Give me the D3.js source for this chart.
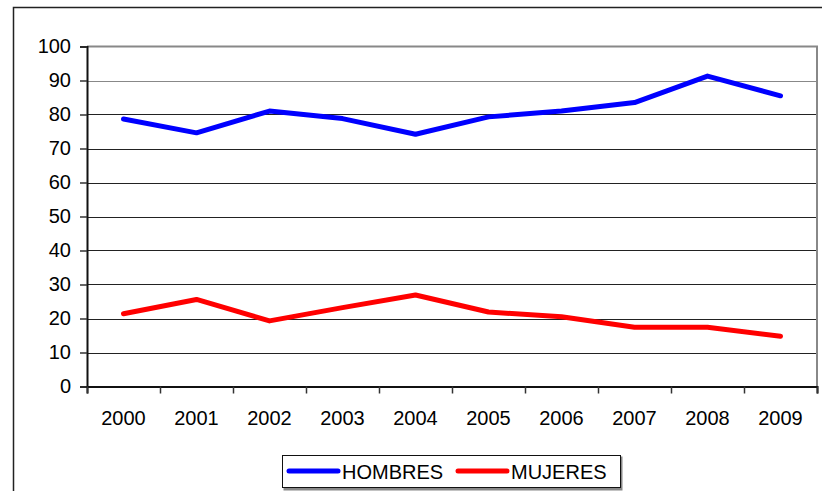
<!DOCTYPE html>
<html>
<head>
<meta charset="utf-8">
<script src="https://cdn.jsdelivr.net/npm/d3@7"></script>
<style>
  body { margin: 0; background: #fff; }
  svg { display: block; }
</style>
</head>
<body>
<div id="chart"></div>
<script>
// years on the x axis
var years = ["2000", "2001", "2002", "2003", "2004", "2005", "2006", "2007", "2008", "2009"];
// values
var hombres = [78.7, 74.6, 81.0, 78.8, 74.2, 79.3, 81.0, 83.5, 91.3, 85.5];
var mujeres = [21.4, 25.6, 19.3, 23.2, 26.9, 21.9, 20.5, 17.4, 17.4, 14.8];
var yTicks = [0, 10, 20, 30, 40, 50, 60, 70, 80, 90, 100];
var seriesNames = ["HOMBRES", "MUJERES"];

var fontFamily = "'Liberation Sans', Arial, Helvetica, sans-serif";
var colors = ["#0000FF", "#FF0000"];

const width = 822;
const height = 491;

var svg = d3.select("#chart")
  .append("svg")
  .attr("width", width)
  .attr("height", height)
  .style("font-family", fontFamily);

// outer chart frame (cut off at right and bottom)
svg.append("rect")
  .attr("x", 13.5).attr("y", 7.5)
  .attr("width", 840).attr("height", 500)
  .attr("fill", "#fff")
  .attr("stroke", "#222")
  .attr("stroke-width", 1.5);

//plot area
var plotLeft = 87, plotRight = 817, plotTop = 46.5, plotBottom = 386.5;

var x = d3.scaleBand()
  .domain(years)
  .range([plotLeft, plotRight]);

var xEdges = d3.scaleLinear()
  .domain([0, years.length])
  .range([plotLeft, plotRight]);

var y = d3.scaleLinear()
  .domain([0, 100])
  .range([plotBottom, plotTop]);

// gridlines
svg.append("g")
  .selectAll("line")
  .data(yTicks.filter(function(d){ return d > 0 && d < 100; }))
  .enter().append("line")
  .attr("x1", plotLeft).attr("x2", plotRight)
  .attr("y1", function(d){ return Math.round(y(d)) + 0.5; })
  .attr("y2", function(d){ return Math.round(y(d)) + 0.5; })
  .attr("stroke", function(d){ return d >= 90 ? "#888" : "#222"; })
  .attr("stroke-width", 1.2);

// top and right border of plot area
svg.append("path")
  .attr("d", "M" + plotLeft + "," + plotTop + "H" + plotRight + "V" + plotBottom)
  .attr("fill", "none")
  .attr("stroke", "#888")
  .attr("stroke-width", 2);

// y axis
var yAxis = svg.append("g")
  .attr("transform", "translate(" + plotLeft + ",0)")
  .call(d3.axisLeft(y).tickValues(yTicks).tickSize(7).tickPadding(9));
yAxis.select(".domain").attr("stroke", "#111").attr("stroke-width", 2);
yAxis.selectAll(".tick line").attr("stroke", "#333").attr("stroke-width", 1.5);
yAxis.selectAll("text")
  .attr("font-size", 20)
  .attr("font-family", fontFamily)
  .attr("fill", "#000");

// x axis tick marks between categories
var xTickAxis = svg.append("g")
  .attr("transform", "translate(0," + plotBottom + ")")
  .call(d3.axisBottom(xEdges).tickValues(d3.range(years.length + 1)).tickSize(7).tickFormat(""));
xTickAxis.select(".domain").attr("stroke", "#111").attr("stroke-width", 2);
xTickAxis.selectAll(".tick line").attr("stroke", "#333").attr("stroke-width", 1.5);

// x axis labels
var xAxis = svg.append("g")
  .attr("transform", "translate(0," + plotBottom + ")")
  .call(d3.axisBottom(x).tickSize(0));
xAxis.select(".domain").remove();
xAxis.selectAll("text")
  .attr("y", 38)
  .attr("dy", 0)
  .attr("font-size", 20)
  .attr("font-family", fontFamily)
  .attr("fill", "#000");

// lines
var line = d3.line()
  .x(function(d, i){ return x(years[i]) + x.bandwidth() / 2; })
  .y(function(d){ return y(d); });

[hombres, mujeres].forEach(function(s, i){
  svg.append("path")
    .datum(s)
    .attr("d", line)
    .attr("fill", "none")
    .attr("stroke", colors[i])
    .attr("stroke-width", 5)
    .attr("stroke-linecap", "round")
    .attr("stroke-linejoin", "round");
});

// legend
var legend = svg.append("g");
legend.append("rect")
  .attr("x", 283.5).attr("y", 456.5)
  .attr("width", 339).attr("height", 34)
  .attr("fill", "#888");
legend.append("rect")
  .attr("x", 282.5).attr("y", 455.5)
  .attr("width", 338).attr("height", 32)
  .attr("fill", "#fff")
  .attr("stroke", "#111")
  .attr("stroke-width", 1);

var legendX = [289, 458];
seriesNames.forEach(function(name, i){
  legend.append("line")
    .attr("x1", legendX[i]).attr("x2", legendX[i] + 49)
    .attr("y1", 471).attr("y2", 471)
    .attr("stroke", colors[i])
    .attr("stroke-width", 5)
    .attr("stroke-linecap", "round");
  legend.append("text")
    .attr("x", legendX[i] + 53)
    .attr("y", 478.5)
    .attr("font-size", 20)
    .attr("fill", "#000")
    .text(name);
});
</script>
</body>
</html>
